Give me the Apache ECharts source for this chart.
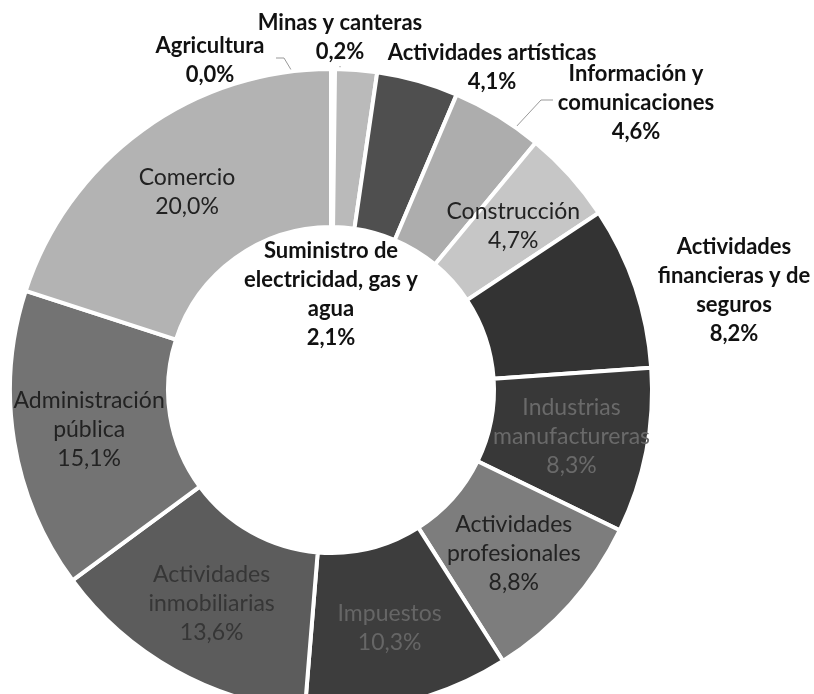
<!DOCTYPE html>
<html>
<head>
    <meta charset="utf-8">
    <title>Composición</title>
    <script src="https://cdn.jsdelivr.net/npm/echarts@6/dist/echarts.min.js"></script>
    <style>
        html, body { margin: 0; padding: 0; background: #fff; }
    </style>
</head>
<body>
<div id="main" style="width: 814px; height: 694px;"></div>

<script type="text/javascript">
    // sectores, en sentido horario desde las 12
    var categories = [
        'Agricultura',
        'Minas y canteras',
        'Suministro de\nelectricidad, gas y\nagua',
        'Actividades artísticas',
        'Información y\ncomunicaciones',
        'Construcción',
        'Actividades\nfinancieras y de\nseguros',
        'Industrias\nmanufactureras',
        'Actividades\nprofesionales',
        'Impuestos',
        'Actividades\ninmobiliarias',
        'Administración\npública',
        'Comercio'
    ];
    var shares = [0.0, 0.2, 2.1, 4.1, 4.6, 4.7, 8.2, 8.3, 8.8, 10.3, 13.6, 15.1, 20.0];

    var sliceColors = ['#b3b3b3', '#bababa', '#bababa', '#4f4f4f', '#adadad', '#c6c6c6',
        '#333333', '#383838', '#7d7d7d', '#3d3d3d', '#5c5c5c', '#737373', '#b3b3b3'];
    var textColors = ['#111', '#111', '#111', '#111', '#111', '#222',
        '#111', '#6a6a6a', '#222', '#666666', '#363636', '#222', '#222'];

    // etiquetas que van fuera del anillo (o en el hueco)
    var outerSpots = {
        0: { x: 210, y: 60, line: [[276, 58], [284, 58], [293, 73]] },
        1: { x: 340, y: 37, line: [[340, 66], [340, 70], [340, 79]] },
        2: { x: 331, y: 294 },
        3: { x: 492, y: 67 },
        4: { x: 636, y: 103, line: [[553, 100], [541, 100], [515, 128]] },
        6: { x: 734, y: 290 }
    };

    var myChart = echarts.init(document.getElementById('main'));

    var pieData = categories.map(function (name, i) {
        var spot = outerSpots[i];
        return {
            name: name,
            value: shares[i],
            itemStyle: { color: sliceColors[i] },
            label: {
                position: spot && spot.line ? 'outside' : 'inside',
                fontWeight: spot ? 'bold' : 'normal',
                fontSize: spot ? 22 : 23,
                color: textColors[i]
            },
            labelLine: { show: !!(spot && spot.line) }
        };
    });

    myChart.setOption({
        backgroundColor: '#fff',
        animation: false,
        series: [{
            type: 'pie',
            center: [331, 390],
            radius: [163, 321],
            startAngle: 90,
            clockwise: true,
            avoidLabelOverlap: false,
            itemStyle: {
                borderColor: '#fff',
                borderWidth: 4
            },
            label: {
                show: true,
                fontFamily: 'Lato',
                lineHeight: 29,
                align: 'center',
                formatter: function (p) {
                    return p.name + '\n' + p.value.toFixed(1).replace('.', ',') + '%';
                }
            },
            labelLine: {
                lineStyle: { color: '#999', width: 1 }
            },
            labelLayout: function (params) {
                var spot = outerSpots[params.dataIndex];
                if (!spot) return {};
                var out = { x: spot.x, y: spot.y, align: 'center', verticalAlign: 'middle' };
                if (spot.line) out.labelLinePoints = spot.line;
                return out;
            },
            data: pieData
        }]
    });
</script>
</body>
</html>
